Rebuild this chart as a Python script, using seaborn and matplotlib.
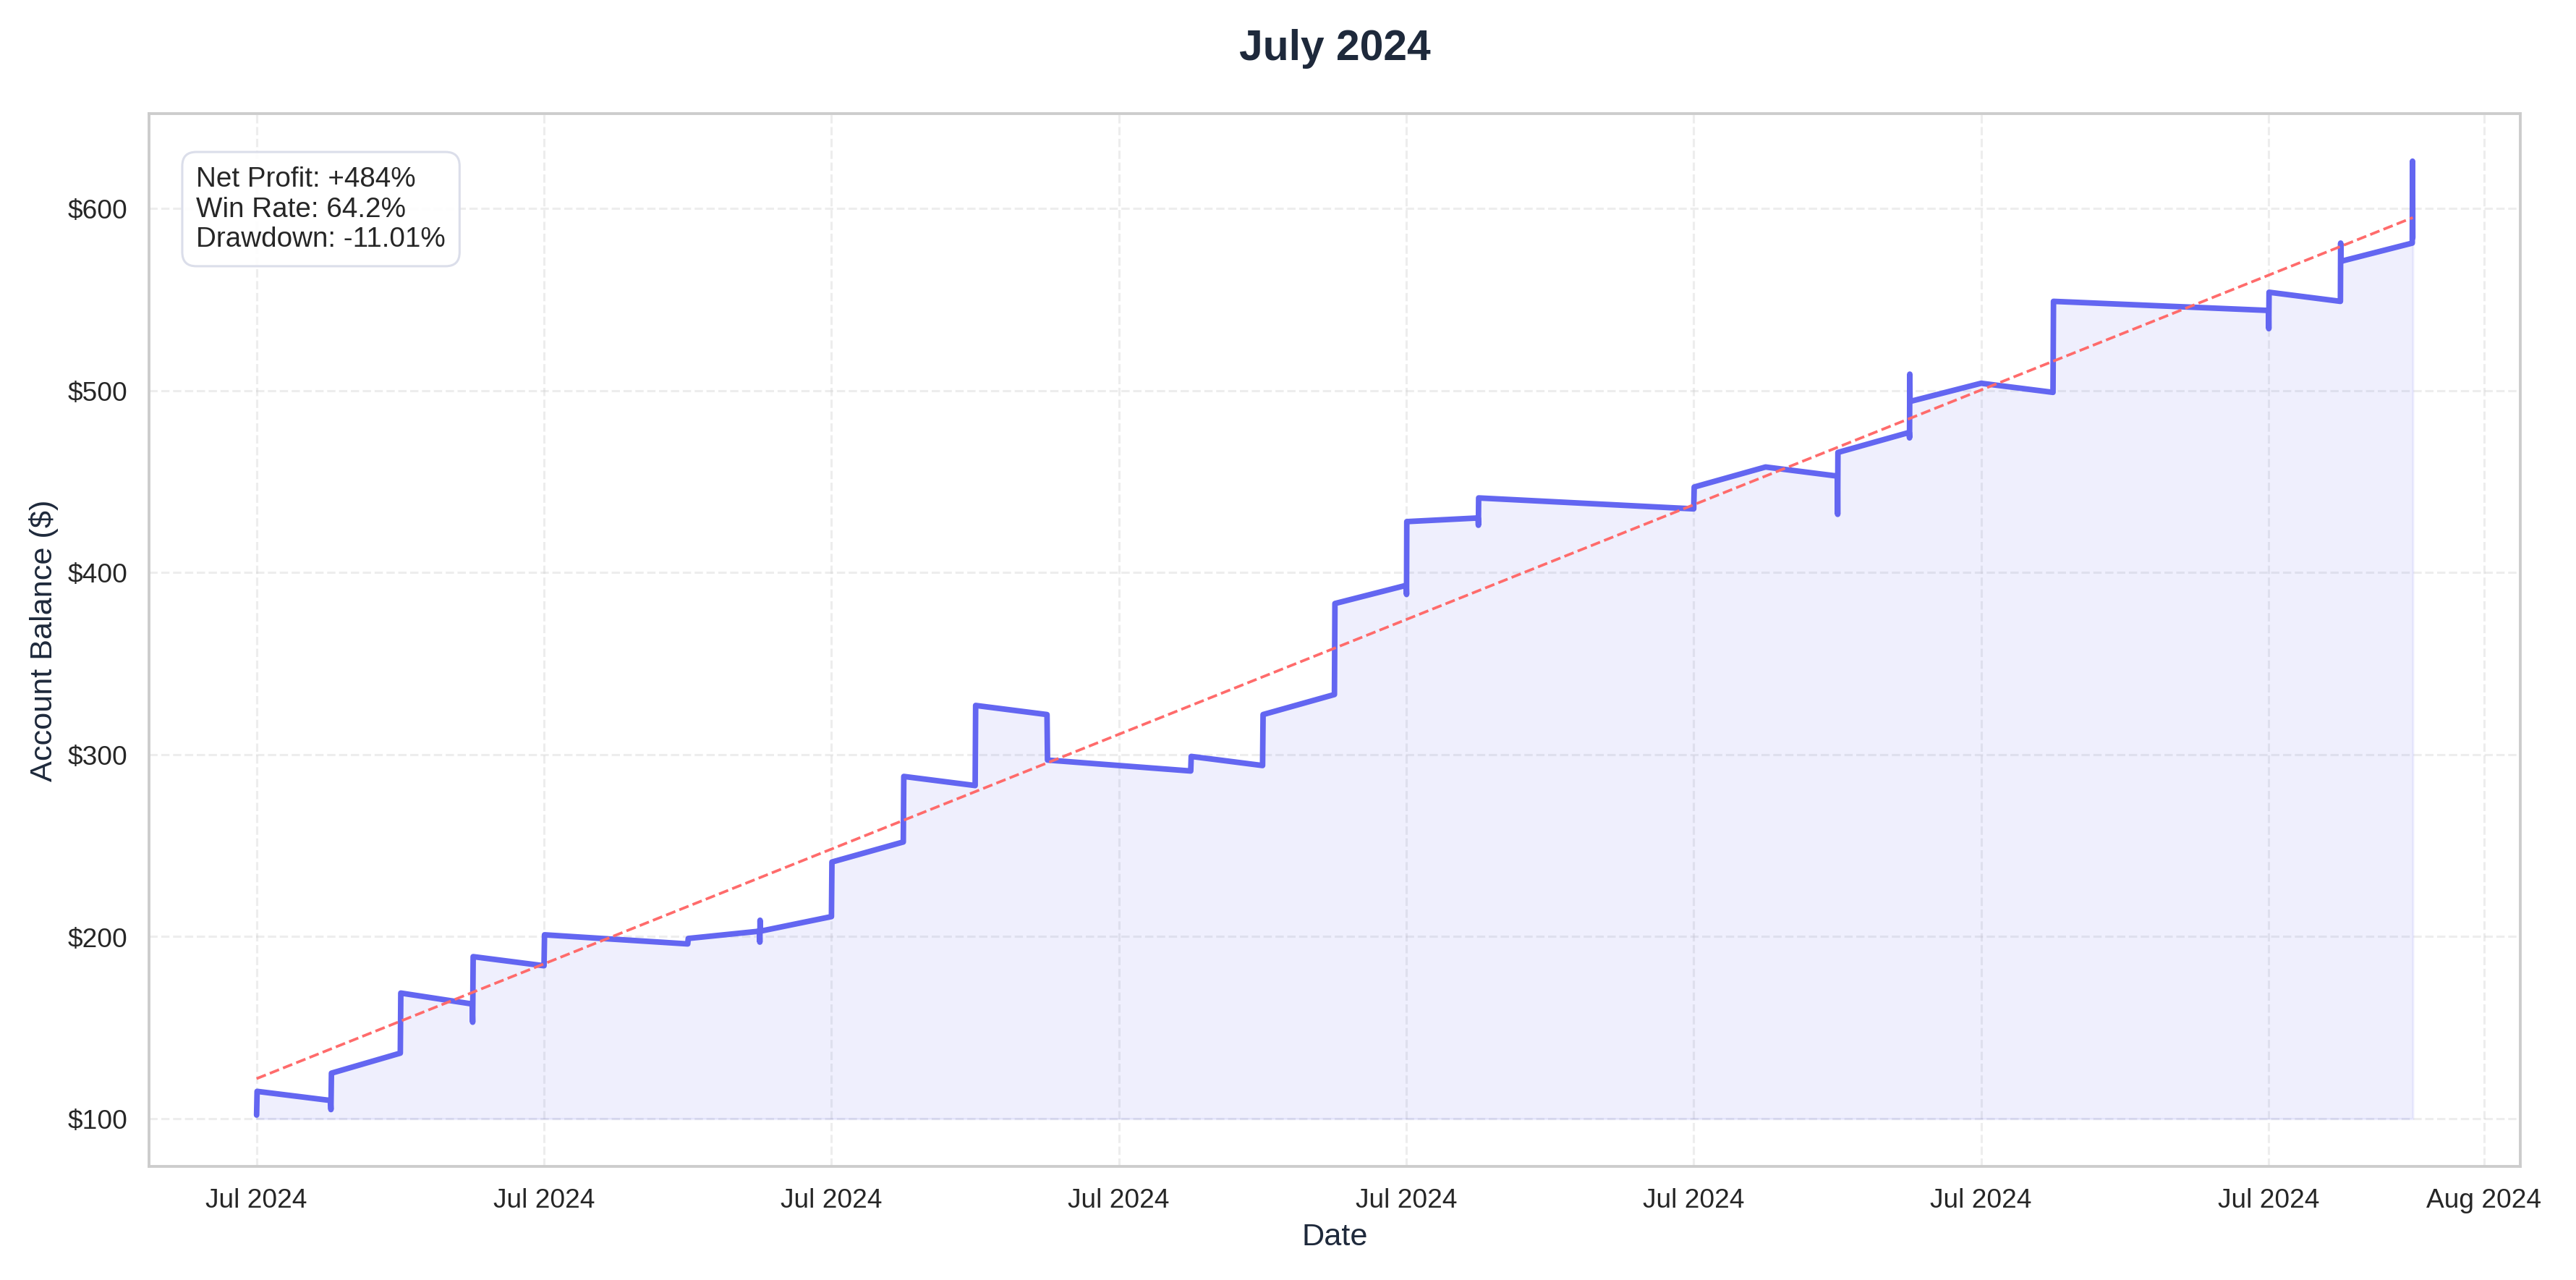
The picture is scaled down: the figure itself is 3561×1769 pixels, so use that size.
import pandas as pd
import numpy as np
import matplotlib.pyplot as plt
import matplotlib.dates as mdates
import seaborn as sns

# trade timestamps and running balance
times = [
    "2024-07-01 00:00", "2024-07-01 00:10",
    "2024-07-02 00:40", "2024-07-02 00:50", "2024-07-02 01:00",
    "2024-07-03 00:00", "2024-07-03 00:10",
    "2024-07-04 00:00", "2024-07-04 00:10", "2024-07-04 00:20",
    "2024-07-05 00:00", "2024-07-05 00:10",
    "2024-07-07 00:00", "2024-07-07 00:10",
    "2024-07-08 00:00", "2024-07-08 00:05", "2024-07-08 00:10", "2024-07-08 00:15",
    "2024-07-09 00:00", "2024-07-09 00:10",
    "2024-07-10 00:00", "2024-07-10 00:10",
    "2024-07-11 00:00", "2024-07-11 00:10",
    "2024-07-12 00:00", "2024-07-12 00:10",
    "2024-07-14 00:00", "2024-07-14 00:10",
    "2024-07-15 00:00", "2024-07-15 00:10",
    "2024-07-16 00:00", "2024-07-16 00:10",
    "2024-07-17 00:00", "2024-07-17 00:05", "2024-07-17 00:10",
    "2024-07-18 00:00", "2024-07-18 00:05", "2024-07-18 00:10",
    "2024-07-21 00:00", "2024-07-21 00:10",
    "2024-07-22 00:00",
    "2024-07-23 00:00", "2024-07-23 00:05", "2024-07-23 00:10",
    "2024-07-24 00:00", "2024-07-24 00:05", "2024-07-24 00:10", "2024-07-24 00:15",
    "2024-07-25 00:00",
    "2024-07-26 00:00", "2024-07-26 00:10",
    "2024-07-29 00:00", "2024-07-29 00:05", "2024-07-29 00:10",
    "2024-07-30 00:00", "2024-07-30 00:05", "2024-07-30 00:10",
    "2024-07-31 00:00", "2024-07-31 00:05", "2024-07-31 00:10",
]
balance = [
    102, 115,
    110, 105, 125,
    136, 169,
    163, 153, 189,
    184, 201,
    196, 199,
    203, 197, 209, 203,
    211, 241,
    252, 288,
    283, 327,
    322, 297,
    291, 299,
    294, 322,
    333, 383,
    393, 388, 428,
    430, 426, 441,
    435, 447,
    458,
    453, 432, 466,
    477, 474, 509, 494,
    504,
    499, 549,
    544, 534, 554,
    549, 581, 571,
    581, 626, 584,
]
stats_text = "Net Profit: +484%\nWin Rate: 64.2%\nDrawdown: -11.01%"
start_balance = 100
trend_start, trend_end = 122, 595

df = pd.DataFrame({"time": pd.to_datetime(times), "balance": balance})

sns.set_theme(style="whitegrid")
plt.rcParams['font.family'] = ['Arial', 'Liberation Sans', 'DejaVu Sans']

fig, ax = plt.subplots(figsize=(16, 7.95), dpi=222.6)
line_color = '#6366f1'

sns.lineplot(data=df, x="time", y="balance", ax=ax, color=line_color, linewidth=2.5,
             estimator=None, sort=False)
ax.fill_between(df["time"], df["balance"], start_balance, color=line_color, alpha=0.1)

# trend line from first to last trade
ax.plot([df["time"].iloc[0], df["time"].iloc[-1]], [trend_start, trend_end], '--',
        color='#ff6b6b', linewidth=1.2)

ax.xaxis.set_major_locator(mdates.AutoDateLocator())
ax.xaxis.set_major_formatter(mdates.DateFormatter('%b %Y'))
ax.yaxis.set_major_formatter(plt.FuncFormatter(lambda v, p: f"${v:.0f}"))
ax.grid(True, linestyle='--', alpha=0.35)
for s in ax.spines.values():
    s.set_color('#cccccc')

ax.set_title('July 2024', fontsize=19, fontweight='bold', color='#1e293b', pad=24)
ax.set_xlabel('Date', fontsize=14, color='#1e293b')
ax.set_ylabel('Account Balance ($)', fontsize=14, color='#1e293b')
ax.tick_params(labelsize=12)

ax.text(0.02, 0.95, stats_text, transform=ax.transAxes, fontsize=12.5, va='top',
        bbox=dict(boxstyle='round,pad=0.5', facecolor='white', edgecolor='#d8dbe8', alpha=0.9))

plt.tight_layout()
plt.savefig('out.png', dpi=222.6)
plt.close()
